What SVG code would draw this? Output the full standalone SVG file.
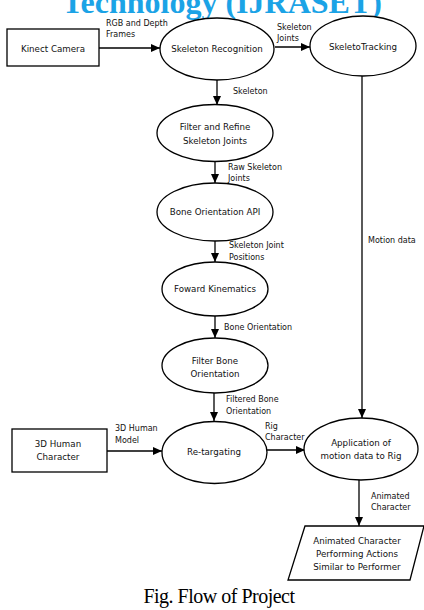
<svg xmlns="http://www.w3.org/2000/svg" width="424" height="610" viewBox="0 0 424 610">
<defs>
<marker id="ah" markerWidth="9" markerHeight="8" refX="9" refY="4" orient="auto" markerUnits="userSpaceOnUse">
<path d="M0,0 L9,4 L0,8 Z" fill="#000"/>
</marker>
<style>
.shape{fill:#fff;stroke:#000;stroke-width:1.3}
.nt{font-family:"DejaVu Sans",Verdana,sans-serif;font-size:8.7px;fill:#111;text-anchor:middle}
.lb{font-family:"DejaVu Sans",Verdana,sans-serif;font-size:8px;fill:#111}
.cn{stroke:#000;stroke-width:1.3;fill:none}
.ca{marker-end:url(#ah)}
</style>
</defs>
<rect width="424" height="610" fill="#fff"/>
<text x="222" y="13" font-family="Liberation Serif,serif" font-weight="bold" font-size="32" fill="#1ba3e6" text-anchor="middle">Technology (IJRASET)</text>

<g id="connectors">
<line class="cn ca" x1="99" y1="48" x2="160" y2="48"/>
<line class="cn ca" x1="275" y1="47" x2="310" y2="47"/>
<line class="cn ca" x1="217" y1="80" x2="217" y2="105"/>
<line class="cn ca" x1="215" y1="162" x2="215" y2="183"/>
<line class="cn ca" x1="215" y1="241" x2="215" y2="262"/>
<line class="cn ca" x1="215" y1="316" x2="215" y2="338"/>
<line class="cn ca" x1="214" y1="393" x2="214" y2="421"/>
<line class="cn ca" x1="362" y1="76" x2="362" y2="418"/>
<line class="cn ca" x1="107" y1="451" x2="162" y2="451"/>
<line class="cn ca" x1="267" y1="450" x2="305" y2="450"/>
<line class="cn ca" x1="359" y1="480" x2="359" y2="526"/>
<text class="lb" x="106" y="26">RGB and Depth</text>
<text class="lb" x="106" y="37">Frames</text>
<text class="lb" x="277" y="30">Skeleton</text>
<text class="lb" x="277" y="41">Joints</text>
<text class="lb" x="233" y="94">Skeleton</text>
<text class="lb" x="228" y="170">Raw Skeleton</text>
<text class="lb" x="228" y="181">Joints</text>
<text class="lb" x="229" y="248">Skeleton Joint</text>
<text class="lb" x="229" y="260">Positions</text>
<text class="lb" x="368" y="243">Motion data</text>
<text class="lb" x="224" y="330">Bone Orientation</text>
<text class="lb" x="226" y="402">Filtered Bone</text>
<text class="lb" x="226" y="414">Orientation</text>
<text class="lb" x="115" y="431">3D Human</text>
<text class="lb" x="115" y="443">Model</text>
<text class="lb" x="265" y="429">Rig</text>
<text class="lb" x="265" y="440">Character</text>
<text class="lb" x="371" y="499">Animated</text>
<text class="lb" x="371" y="510">Character</text>
</g>

<g id="kinect">
<rect class="shape" x="7" y="29" width="92" height="37"/>
<text class="nt" x="53" y="52">Kinect Camera</text>
</g>
<g id="skelrec">
<ellipse class="shape" cx="217" cy="49" rx="57" ry="31"/>
<text class="nt" x="217" y="52">Skeleton Recognition</text>
</g>
<g id="skeltrack">
<ellipse class="shape" cx="363" cy="46" rx="53" ry="30"/>
<text class="nt" x="363" y="50">SkeletoTracking</text>
</g>
<g id="filterrefine">
<ellipse class="shape" cx="215" cy="133" rx="58" ry="28.5"/>
<text class="nt" x="215" y="130">Filter and Refine</text>
<text class="nt" x="215" y="144">Skeleton Joints</text>
</g>
<g id="boneapi">
<ellipse class="shape" cx="215" cy="212" rx="58" ry="29"/>
<text class="nt" x="215" y="215">Bone Orientation API</text>
</g>
<g id="fk">
<ellipse class="shape" cx="215" cy="289" rx="53" ry="27"/>
<text class="nt" x="215" y="292">Foward Kinematics</text>
</g>
<g id="filterbone">
<ellipse class="shape" cx="215" cy="365.5" rx="53" ry="27.5"/>
<text class="nt" x="215" y="364">Filter Bone</text>
<text class="nt" x="215" y="377">Orientation</text>
</g>
<g id="retarget">
<ellipse class="shape" cx="214.5" cy="452.5" rx="52.5" ry="31"/>
<text class="nt" x="214" y="455">Re-targating</text>
</g>
<g id="human">
<rect class="shape" x="12" y="429" width="95" height="43"/>
<text class="nt" x="58" y="447">3D Human</text>
<text class="nt" x="58" y="460">Character</text>
</g>
<g id="apply">
<ellipse class="shape" cx="361" cy="449" rx="57" ry="31"/>
<text class="nt" x="361" y="446">Application of</text>
<text class="nt" x="361" y="459">motion data to Rig</text>
</g>
<g id="output">
<polygon class="shape" points="305,526 424,526 410,580 288,580"/>
<text class="nt" x="357" y="544">Animated Character</text>
<text class="nt" x="357" y="557">Performing Actions</text>
<text class="nt" x="357" y="570">Similar to Performer</text>
</g>
<text x="219" y="603" font-family="Liberation Serif,serif" font-size="20" fill="#000" text-anchor="middle" letter-spacing="-0.5">Fig. Flow of Project</text>
</svg>
